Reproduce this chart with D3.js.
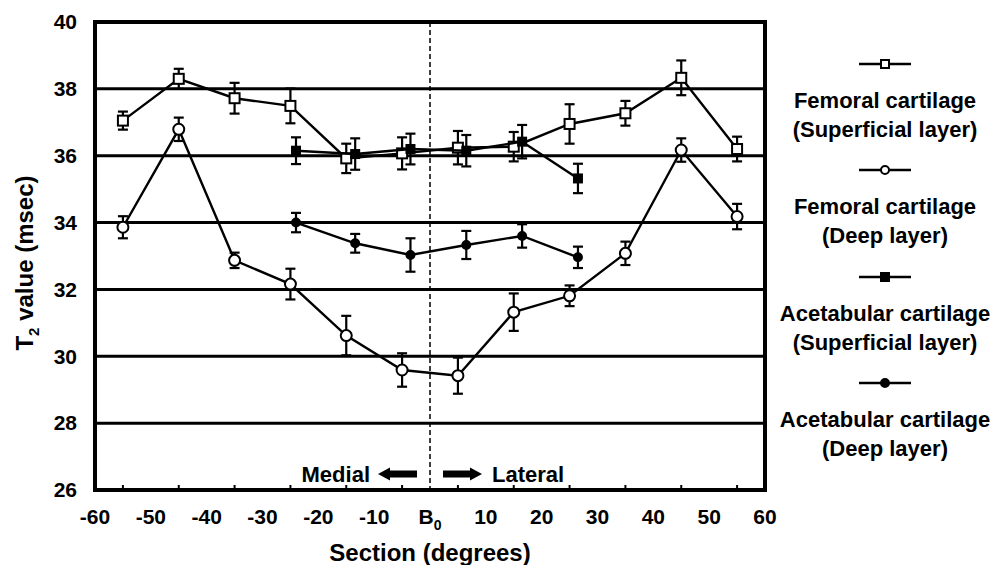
<!DOCTYPE html>
<html lang="en">
<head>
  <meta charset="UTF-8" />
  <title>T2 value by section</title>
  <script src="https://d3js.org/d3.v7.min.js" charset="utf-8"></script>
  <style type="text/css">
  body { margin: 0; background: #fff; }
  svg {
    font-family: "Liberation Sans", Arial, sans-serif;
    font-weight: bold;
  }
  </style>
</head>
<body>
<script type="text/javascript">

// data
var femX = [-55, -45, -35, -25, -15, -5, 5, 15, 25, 35, 45, 55];
var femSup = [37.05, 38.30, 37.72, 37.49, 35.92, 36.07, 36.24, 36.27, 36.95, 37.27, 38.33, 36.20];
var femSupErr = [0.27, 0.30, 0.46, 0.52, 0.44, 0.48, 0.50, 0.44, 0.59, 0.37, 0.52, 0.37];
var femDeep = [33.86, 36.79, 32.87, 32.16, 30.62, 29.59, 29.42, 31.32, 31.81, 33.08, 36.17, 34.18];
var femDeepErr = [0.33, 0.35, 0.23, 0.46, 0.59, 0.50, 0.54, 0.56, 0.31, 0.35, 0.35, 0.38];

var aceX = [-24, -13.4, -3.5, 6.5, 16.5, 26.5];
var aceSup = [36.15, 36.05, 36.20, 36.15, 36.42, 35.32];
var aceSupErr = [0.40, 0.47, 0.46, 0.47, 0.50, 0.44];
var aceDeep = [34.00, 33.38, 33.03, 33.33, 33.60, 32.96];
var aceDeepErr = [0.29, 0.28, 0.50, 0.42, 0.35, 0.32];

var xTickLabels = [-60, -50, -40, -30, -20, -10, 0, 10, 20, 30, 40, 50, 60];
var xMinorTicks = [-55, -45, -35, -25, -15, -5, 5, 15, 25, 35, 45, 55];
var yTicks = [26, 28, 30, 32, 34, 36, 38, 40];

var seriesNames = [
  ["Femoral cartilage", "(Superficial layer)"],
  ["Femoral cartilage", "(Deep layer)"],
  ["Acetabular cartilage", "(Superficial layer)"],
  ["Acetabular cartilage", "(Deep layer)"]
];

var width = 997, height = 565;
var plot = {left: 95, right: 765, top: 22, bottom: 490};

var svg = d3.select("body").append("svg")
  .attr("width", width)
  .attr("height", height);

var x = d3.scaleLinear().domain([-60, 60]).range([plot.left, plot.right]);
var y = d3.scaleLinear().domain([26, 40]).range([plot.bottom, plot.top]);

// horizontal grid lines
svg.append("g")
  .selectAll("line")
  .data(yTicks.filter(function(d) { return d > 26 && d < 40; }))
  .enter().append("line")
    .attr("x1", plot.left).attr("x2", plot.right)
    .attr("y1", function(d) { return y(d); })
    .attr("y2", function(d) { return y(d); })
    .attr("stroke", "#000")
    .attr("stroke-width", 3);

// B0 dashed line
svg.append("line")
  .attr("x1", x(0)).attr("x2", x(0))
  .attr("y1", plot.top).attr("y2", plot.bottom)
  .attr("stroke", "#000")
  .attr("stroke-width", 1.5)
  .attr("stroke-dasharray", "5,3");

// minor ticks inside the bottom axis
svg.append("g")
  .selectAll("line")
  .data(xMinorTicks)
  .enter().append("line")
    .attr("x1", function(d) { return x(d); })
    .attr("x2", function(d) { return x(d); })
    .attr("y1", plot.bottom).attr("y2", plot.bottom - 5)
    .attr("stroke", "#000")
    .attr("stroke-width", 2);

// frame
svg.append("rect")
  .attr("x", plot.left).attr("y", plot.top)
  .attr("width", plot.right - plot.left)
  .attr("height", plot.bottom - plot.top)
  .attr("fill", "none")
  .attr("stroke", "#000")
  .attr("stroke-width", 4);

// y tick labels
svg.append("g")
  .selectAll("text")
  .data(yTicks)
  .enter().append("text")
    .attr("x", 77)
    .attr("y", function(d) { return y(d); })
    .attr("dy", "0.35em")
    .attr("text-anchor", "end")
    .attr("font-size", 21)
    .text(function(d) { return d; });

// x tick labels
var xl = svg.append("g")
  .selectAll("text")
  .data(xTickLabels)
  .enter().append("text")
    .attr("x", function(d) { return x(d); })
    .attr("y", 517)
    .attr("dy", "0.35em")
    .attr("text-anchor", "middle")
    .attr("font-size", 21);
xl.each(function(d) {
  var t = d3.select(this);
  if (d === 0) {
    t.append("tspan").text("B");
    t.append("tspan").attr("font-size", 14).attr("dy", 6).text("0");
  } else {
    t.text(d);
  }
});

// axis titles
svg.append("text")
  .attr("x", x(0))
  .attr("y", 553)
  .attr("dy", "0.35em")
  .attr("text-anchor", "middle")
  .attr("font-size", 24)
  .text("Section (degrees)");

var yt = svg.append("text")
  .attr("transform", "translate(33,263) rotate(-90)")
  .attr("text-anchor", "middle")
  .attr("font-size", 24);
yt.append("tspan").text("T");
yt.append("tspan").attr("font-size", 15).attr("dy", 6).text("2");
yt.append("tspan").attr("dy", -6).text(" value (msec)");

// medial / lateral annotation
svg.append("text")
  .attr("x", 370).attr("y", 474)
  .attr("dy", "0.35em")
  .attr("text-anchor", "end")
  .attr("font-size", 22)
  .text("Medial");
svg.append("text")
  .attr("x", 492).attr("y", 474)
  .attr("dy", "0.35em")
  .attr("text-anchor", "start")
  .attr("font-size", 22)
  .text("Lateral");

function blockArrow(x0, x1, yc, dir) {
  // dir = -1 points left, 1 points right
  var head = 12, hh = 6.5, sh = 3.5;
  var tip = dir < 0 ? x0 : x1, tail = dir < 0 ? x1 : x0;
  var neck = tip - dir * head;
  return "M" + tail + "," + (yc - sh) + "L" + neck + "," + (yc - sh) +
    "L" + neck + "," + (yc - hh) + "L" + tip + "," + yc +
    "L" + neck + "," + (yc + hh) + "L" + neck + "," + (yc + sh) +
    "L" + tail + "," + (yc + sh) + "Z";
}
svg.append("path").attr("d", blockArrow(378, 417, 474, -1)).attr("fill", "#000");
svg.append("path").attr("d", blockArrow(443, 482, 474, 1)).attr("fill", "#000");

// series
var series = [
  {xs: femX, ys: femSup, err: femSupErr, shape: "square", fill: "#fff", size: 10},
  {xs: femX, ys: femDeep, err: femDeepErr, shape: "circle", fill: "#fff", size: 5.5},
  {xs: aceX, ys: aceSup, err: aceSupErr, shape: "square", fill: "#000", size: 8},
  {xs: aceX, ys: aceDeep, err: aceDeepErr, shape: "circle", fill: "#000", size: 4}
];

var line = d3.line()
  .x(function(d) { return x(d[0]); })
  .y(function(d) { return y(d[1]); });

function drawMarker(g, s, cx, cy) {
  if (s.shape === "square") {
    g.append("rect")
      .attr("x", cx - s.size / 2).attr("y", cy - s.size / 2)
      .attr("width", s.size).attr("height", s.size)
      .attr("fill", s.fill).attr("stroke", "#000").attr("stroke-width", 2);
  } else {
    g.append("circle")
      .attr("cx", cx).attr("cy", cy).attr("r", s.size)
      .attr("fill", s.fill).attr("stroke", "#000").attr("stroke-width", 2);
  }
}

series.forEach(function(s) {
  var pts = s.xs.map(function(v, i) { return [v, s.ys[i], s.err[i]]; });
  var g = svg.append("g");
  g.append("path")
    .datum(pts)
    .attr("d", line)
    .attr("fill", "none")
    .attr("stroke", "#000")
    .attr("stroke-width", 2.4);
  pts.forEach(function(p) {
    var cx = x(p[0]);
    var top = y(p[1] + p[2]), bot = y(p[1] - p[2]);
    g.append("line").attr("x1", cx).attr("x2", cx).attr("y1", top).attr("y2", bot)
      .attr("stroke", "#000").attr("stroke-width", 2.2);
    g.append("line").attr("x1", cx - 5).attr("x2", cx + 5).attr("y1", top).attr("y2", top)
      .attr("stroke", "#000").attr("stroke-width", 2.2);
    g.append("line").attr("x1", cx - 5).attr("x2", cx + 5).attr("y1", bot).attr("y2", bot)
      .attr("stroke", "#000").attr("stroke-width", 2.2);
  });
  pts.forEach(function(p) { drawMarker(g, s, x(p[0]), y(p[1])); });
});

// legend
var legendY = [64, 170, 277, 383];
series.forEach(function(s, i) {
  var g = svg.append("g");
  var ly = legendY[i];
  g.append("line").attr("x1", 859).attr("x2", 911).attr("y1", ly).attr("y2", ly)
    .attr("stroke", "#000").attr("stroke-width", 2.4);
  var ms = {shape: s.shape, fill: s.fill, size: s.shape === "square" ? 8 : 4};
  drawMarker(g, ms, 885, ly);
  seriesNames[i].forEach(function(txt, j) {
    g.append("text")
      .attr("x", 885)
      .attr("y", ly + 36 + j * 29)
      .attr("dy", "0.35em")
      .attr("text-anchor", "middle")
      .attr("font-size", 22)
      .text(txt);
  });
});

</script>
</body>
</html>
